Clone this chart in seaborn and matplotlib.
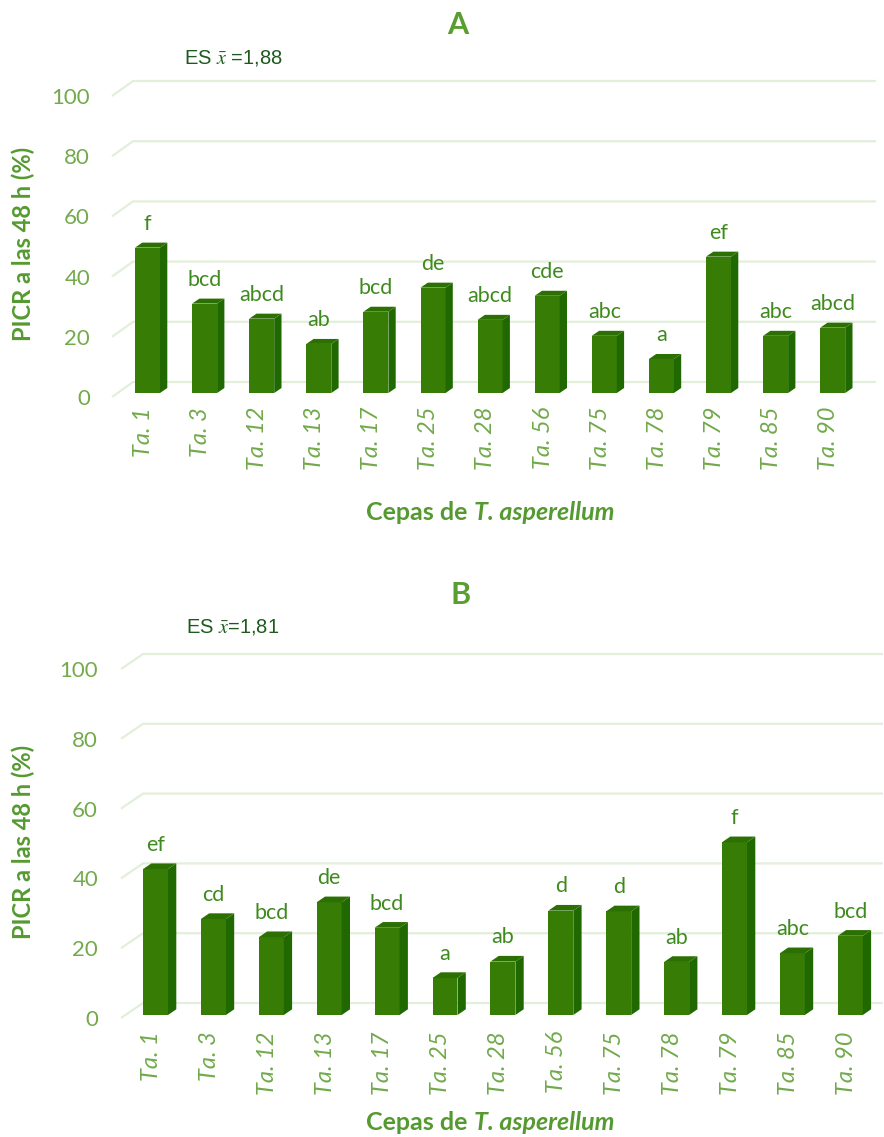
import matplotlib
matplotlib.use('Agg')
import matplotlib.pyplot as plt
import matplotlib.transforms as mtransforms
from matplotlib.patches import Polygon
import seaborn as sns

# ---------------- data ----------------
strains = ['Ta. 1', 'Ta. 3', 'Ta. 12', 'Ta. 13', 'Ta. 17', 'Ta. 25', 'Ta. 28',
           'Ta. 56', 'Ta. 75', 'Ta. 78', 'Ta. 79', 'Ta. 85', 'Ta. 90']
picr_a = [48.3, 29.7, 24.7, 16.3, 27.0, 35.0, 24.3, 32.3, 19.0, 11.3, 45.3, 19.0, 21.7]
letters_a = ['f', 'bcd', 'abcd', 'ab', 'bcd', 'de', 'abcd', 'cde', 'abc', 'a', 'ef', 'abc', 'abcd']
picr_b = [41.8, 27.5, 22.3, 32.3, 25.0, 10.6, 15.3, 29.9, 29.7, 15.2, 49.5, 17.7, 22.7]
letters_b = ['ef', 'cd', 'bcd', 'de', 'bcd', 'a', 'ab', 'd', 'd', 'ab', 'f', 'abc', 'bcd']
y_ticks = [0, 20, 40, 60, 80, 100]
panel_titles = ['A', 'B']
es_labels = [r'ES $\bar{x}$ =1,88', r'ES $\bar{x}$=1,81']
y_label = 'PICR a las 48 h (%)'
x_label_parts = ['Cepas de ', 'T. asperellum']

# ---------------- style ----------------
sns.set_theme(style='white')
plt.rcParams['font.family'] = ['Lato', 'DejaVu Sans']

FRONT = '#377C05'
SIDE = '#1F6900'
TOP = '#2C7004'
GRID = '#E2EFDA'
TICK_C = '#72AA4C'
AXT_C = '#559A30'
TITLE_C = '#5A9E32'
LET_C = '#3F8A1E'
ES_C = '#1E5A1E'

W, H = 884, 1137
fig = plt.figure(figsize=(W / 100, H / 100), dpi=100)

# geometry (pixels)
panels = [
    dict(vals=picr_a, lets=letters_a, left=112, right=876, top=75, bottom=400,
         x0=147.5, step=57.1, base=393, scale=3.01, back=11, front=-4, diag=21,
         ddx=7.3, ddy=5.0, ypad=15.8, xpad=5.0,
         title_xy=(458, 25), es_xy=(184, 58), ylab_xy=(23, 244), xlab_xy=(490, 512)),
    dict(vals=picr_b, lets=letters_b, left=121, right=883, top=650, bottom=1022,
         x0=155.5, step=57.9, base=1015, scale=3.49, back=12, front=-3, diag=22,
         ddx=8.3, ddy=5.7, ypad=16.5, xpad=6.5,
         title_xy=(461, 595), es_xy=(186, 627), ylab_xy=(23, 842), xlab_xy=(490, 1122)),
]

def fx(px):
    return px / W

def fy(py):
    return 1 - py / H

renderer = fig.canvas.get_renderer()

for i, p in enumerate(panels):
    ax = fig.add_axes([fx(p['left']), fy(p['bottom']),
                       (p['right'] - p['left']) / W, (p['bottom'] - p['top']) / H])
    xl = (p['left'] - p['x0']) / p['step']
    xr = (p['right'] - p['x0']) / p['step']
    yb = (p['base'] - p['bottom']) / p['scale']
    yt = (p['base'] - p['top']) / p['scale']

    # gridlines with 3D wall look
    back_u = p['back'] / p['scale']
    front_u = p['front'] / p['scale']
    diag_u = p['diag'] / p['step']
    for v in y_ticks:
        ax.plot([xl, xl + diag_u, xr], [v + front_u, v + back_u, v + back_u],
                color=GRID, lw=1.6, zorder=0, clip_on=False, solid_capstyle='butt')

    sns.barplot(x=strains, y=p['vals'], order=strains, color=FRONT, saturation=1,
                width=25 / p['step'], ax=ax, zorder=3, linewidth=0, edgecolor=FRONT)

    dx = p['ddx'] / p['step']
    dy = p['ddy'] / p['scale']
    for patch, lab in zip(ax.patches, p['lets']):
        x0 = patch.get_x()
        x1 = x0 + patch.get_width()
        h = patch.get_height()
        side = Polygon([(x1, 0), (x1 + dx, dy), (x1 + dx, h + dy), (x1, h)],
                       closed=True, facecolor=SIDE, edgecolor='none', zorder=3)
        topf = Polygon([(x0, h), (x1, h), (x1 + dx, h + dy), (x0 + dx, h + dy)],
                       closed=True, facecolor=TOP, edgecolor='none', zorder=3)
        ax.add_patch(side)
        ax.add_patch(topf)
        ax.annotate(lab, ((x0 + x1) / 2, h + dy), xytext=(0, 9),
                    textcoords='offset points', ha='center', va='baseline',
                    fontsize=15.5, color=LET_C)

    ax.set_xlim(xl, xr)
    ax.set_ylim(yb, yt)
    ax.set_yticks([v + front_u for v in y_ticks])
    ax.set_yticklabels([str(v) for v in y_ticks])
    ax.tick_params(axis='y', length=0, pad=p['ypad'], labelsize=16, labelcolor=TICK_C)
    ax.tick_params(axis='x', length=0, pad=p['xpad'], labelsize=17, labelcolor=TICK_C)
    shift = mtransforms.ScaledTranslation(-3 / 72, 0, fig.dpi_scale_trans)
    for t in ax.get_xticklabels():
        t.set_rotation(90)
        t.set_fontstyle('italic')
        t.set_ha('center')
        t.set_va('top')
        t.set_transform(t.get_transform() + shift)
    ax.set_xlabel('')
    ax.set_ylabel('')
    for s in ax.spines.values():
        s.set_visible(False)
    ax.grid(False)
    ax.set_facecolor('none')

    fig.text(fx(p['title_xy'][0]), fy(p['title_xy'][1]), panel_titles[i],
             ha='center', va='center', fontsize=22, fontweight='bold', color=TITLE_C)
    fig.text(fx(p['es_xy'][0]), fy(p['es_xy'][1]), es_labels[i],
             ha='left', va='center', fontsize=14.5, color=ES_C,
             family=['Liberation Sans', 'DejaVu Sans'],
             math_fontfamily='stix')
    fig.text(fx(p['ylab_xy'][0]), fy(p['ylab_xy'][1]), y_label, rotation=90,
             ha='center', va='center', fontsize=17, fontweight='bold', color=AXT_C)

    # x axis title: regular bold part + bold italic part, centred together
    t1 = fig.text(0, fy(p['xlab_xy'][1]), x_label_parts[0], ha='left', va='center',
                  fontsize=18, fontweight='bold', color=AXT_C)
    t2 = fig.text(0, fy(p['xlab_xy'][1]), x_label_parts[1], ha='left', va='center',
                  fontsize=18, fontweight='bold', fontstyle='italic', color=AXT_C)
    w1 = t1.get_window_extent(renderer).width
    w2 = t2.get_window_extent(renderer).width
    start = p['xlab_xy'][0] - (w1 + w2) / 2
    t1.set_x(fx(start))
    t2.set_x(fx(start + w1))

fig.savefig('out.png', dpi=100, facecolor='white')
